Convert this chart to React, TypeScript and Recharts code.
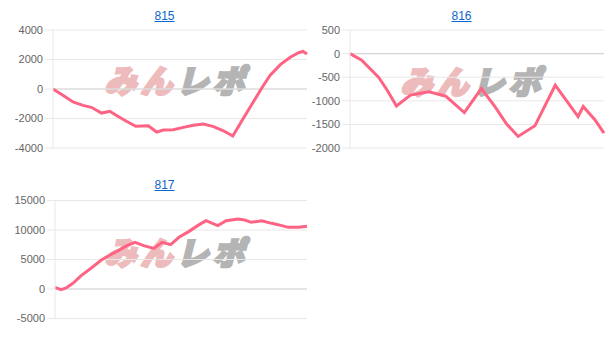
import React from "react";
import {
  LineChart,
  Line,
  XAxis,
  YAxis,
  CartesianGrid,
  ReferenceLine,
} from "recharts";

// Machine numbers shown as panel titles
const titles = ["815", "816", "817"];

// Progress (0–100) along each session and the running balance at that point
const xs815 = [0, 3.9, 7.9, 11.8, 15.1, 19.1, 22.4, 25, 28.9, 32.6, 37.5, 40.8, 43.4, 47.4, 51.3, 55.3, 59.2, 63.2, 67.1, 70.8, 74.3, 78.3, 82.2, 85.5, 89.5, 93.4, 96.7, 98.4, 100];
const ys815 = [0, -430, -880, -1110, -1240, -1630, -1510, -1790, -2190, -2530, -2490, -2920, -2780, -2760, -2600, -2460, -2370, -2550, -2830, -3190, -2170, -1040, 70, 930, 1650, 2150, 2460, 2550, 2370];

const xs816 = [0, 4.6, 11.3, 14.6, 18.3, 23.8, 31.1, 37.7, 45, 51.7, 57, 61.6, 66.2, 72.8, 80.8, 89.8, 91.8, 96.4, 100];
const ys816 = [0, -140, -505, -770, -1110, -880, -810, -900, -1250, -740, -1120, -1490, -1755, -1530, -670, -1335, -1120, -1400, -1685];

const xs817 = [0, 2.4, 4.4, 7.1, 10.4, 14.4, 18.4, 21.8, 25.1, 28.5, 31.8, 35.2, 39.2, 42.5, 45.9, 49.2, 53.2, 56.6, 59.9, 64.6, 67.9, 72.6, 75.3, 77.9, 82, 86, 90, 92.6, 96.7, 100];
const ys817 = [280, -110, 170, 960, 2260, 3560, 4920, 5760, 6500, 7350, 7910, 7350, 6890, 7910, 7510, 8760, 9770, 10740, 11580, 10740, 11580, 11870, 11700, 11300, 11580, 11130, 10740, 10450, 10450, 10620];

// Y-axis ticks per panel
const ticks815 = [-4000, -2000, 0, 2000, 4000];
const ticks816 = [-2000, -1500, -1000, -500, 0, 500];
const ticks817 = [-5000, 0, 5000, 10000, 15000];

const LINE_COLOR = "rgb(255, 99, 132)";
const GRID_COLOR = "#e8e8e8";
const FONT = "'Liberation Sans', Arial, Helvetica, sans-serif";

type Pt = { x: number; v: number };

const toData = (xs: number[], ys: number[]): Pt[] =>
  xs.map((x, i) => ({ x, v: ys[i] }));

type PanelProps = {
  title: string;
  titleCenter: number;
  titleTop: number;
  left: number;
  top: number;
  width: number;
  height: number;
  margin: { top: number; right: number; bottom: number; left: number };
  yAxisWidth: number;
  ticks: number[];
  data: Pt[];
  markLeft: number;
  markTop: number;
};

// Site logo stamped behind each chart
function Watermark({ left, top }: { left: number; top: number }) {
  const PINK = "#eebbbd";
  const GRAY = "#b4b4b4";
  return (
    <div
      style={{
        position: "absolute",
        left,
        top,
        fontFamily: "'Noto Sans CJK JP', sans-serif",
        fontWeight: 900,
        fontSize: 32,
        lineHeight: "32px",
        letterSpacing: 4,
        transform: "skewX(-14deg)",
        whiteSpace: "nowrap",
        userSelect: "none",
      }}
    >
      <span style={{ color: PINK, WebkitTextStroke: `2.5px ${PINK}` }}>みん</span>
      <span style={{ color: GRAY, WebkitTextStroke: `2.5px ${GRAY}` }}>レポ</span>
    </div>
  );
}

function Panel(p: PanelProps) {
  return (
    <>
      <div
        style={{
          position: "absolute",
          left: p.titleCenter - 40,
          top: p.titleTop,
          width: 80,
          textAlign: "center",
          fontFamily: FONT,
          fontSize: 12,
          lineHeight: "14px",
        }}
      >
        <a href="#" style={{ color: "#0a66cc", textDecoration: "underline" }}>
          {p.title}
        </a>
      </div>
      <Watermark left={p.markLeft} top={p.markTop} />
      <div style={{ position: "absolute", left: p.left, top: p.top }}>
        <LineChart width={p.width} height={p.height} data={p.data} margin={p.margin}>
          <CartesianGrid vertical={false} stroke={GRID_COLOR} />
          <XAxis dataKey="x" type="number" domain={[0, 100]} hide />
          <YAxis
            width={p.yAxisWidth}
            domain={[p.ticks[0], p.ticks[p.ticks.length - 1]]}
            ticks={p.ticks}
            interval={0}
            tickSize={8}
            tickMargin={2}
            axisLine={{ stroke: GRID_COLOR }}
            tickLine={{ stroke: GRID_COLOR }}
            tick={{ fill: "#666", fontSize: 11, fontFamily: FONT }}
          />
          <ReferenceLine y={0} stroke="#d6d6d6" strokeWidth={1.2} />
          <Line
            type="linear"
            dataKey="v"
            stroke={LINE_COLOR}
            strokeWidth={3}
            dot={false}
            isAnimationActive={false}
          />
        </LineChart>
      </div>
    </>
  );
}

export default function App() {
  return (
    <div
      style={{
        position: "absolute",
        left: 0,
        top: 0,
        width: 610,
        height: 345,
        background: "#fff",
        overflow: "hidden",
      }}
    >
      <Panel
        title={titles[0]}
        titleCenter={164.5}
        titleTop={8.5}
        left={0}
        top={0}
        width={320}
        height={160}
        margin={{ top: 30, right: 13, bottom: 12, left: 0 }}
        yAxisWidth={53}
        ticks={ticks815}
        data={toData(xs815, ys815)}
        markLeft={108}
        markTop={63}
      />
      <Panel
        title={titles[1]}
        titleCenter={461.5}
        titleTop={8.5}
        left={300}
        top={0}
        width={310}
        height={160}
        margin={{ top: 30, right: 6, bottom: 12, left: 0 }}
        yAxisWidth={50}
        ticks={ticks816}
        data={toData(xs816, ys816)}
        markLeft={404}
        markTop={64}
      />
      <Panel
        title={titles[2]}
        titleCenter={164.5}
        titleTop={178.3}
        left={0}
        top={170}
        width={320}
        height={160}
        margin={{ top: 30.5, right: 13, bottom: 11.5, left: 0 }}
        yAxisWidth={55}
        ticks={ticks817}
        data={toData(xs817, ys817)}
        markLeft={108}
        markTop={235}
      />
    </div>
  );
}
